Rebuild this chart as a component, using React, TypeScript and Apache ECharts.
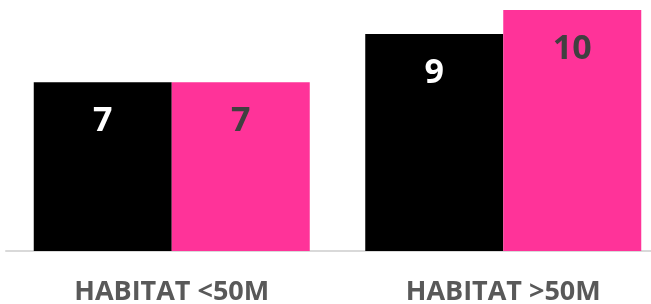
import React, { useEffect, useRef } from "react";
import * as echarts from "echarts";

const categories = ["HABITAT <50M", "HABITAT >50M"];
const seriesA = [7, 9];
const seriesB = [7, 10];

export default function App() {
  const ref = useRef<HTMLDivElement>(null);
  useEffect(() => {
    const chart = echarts.init(ref.current!, null, { renderer: "svg" });
    const labelBase = {
      show: true,
      position: ["50%", 36] as any,
      align: "center",
      verticalAlign: "middle",
      fontFamily: "Open Sans",
      fontWeight: "bold",
      fontSize: 34,
    };
    chart.setOption({
      animation: false,
      grid: {
        left: 6,
        width: 663,
        top: 10,
        height: 241,
        outerBoundsMode: "none",
        containLabel: false,
      },
      xAxis: {
        type: "category",
        data: categories,
        axisLine: { show: true, lineStyle: { color: "#d9d9d9", width: 2 } },
        axisTick: { show: false },
        axisLabel: {
          color: "#595959",
          fontFamily: "Open Sans",
          fontWeight: "bold",
          fontSize: 27,
          lineHeight: 24,
          margin: 26,
        },
      },
      yAxis: {
        type: "value",
        min: 0,
        max: 10,
        show: false,
        splitLine: { show: false },
      },
      series: [
        {
          type: "bar",
          data: seriesA,
          barWidth: 138,
          barGap: "0%",
          itemStyle: { color: "#000000" },
          label: { ...labelBase, color: "#ffffff" },
        },
        {
          type: "bar",
          data: seriesB,
          barWidth: 138,
          barGap: "0%",
          itemStyle: { color: "#ff3399" },
          label: { ...labelBase, color: "#404040" },
        },
      ],
    });
    return () => chart.dispose();
  }, []);
  return (
    <div
      ref={ref}
      style={{ position: "fixed", left: 0, top: 0, width: 651, height: 304 }}
    />
  );
}
